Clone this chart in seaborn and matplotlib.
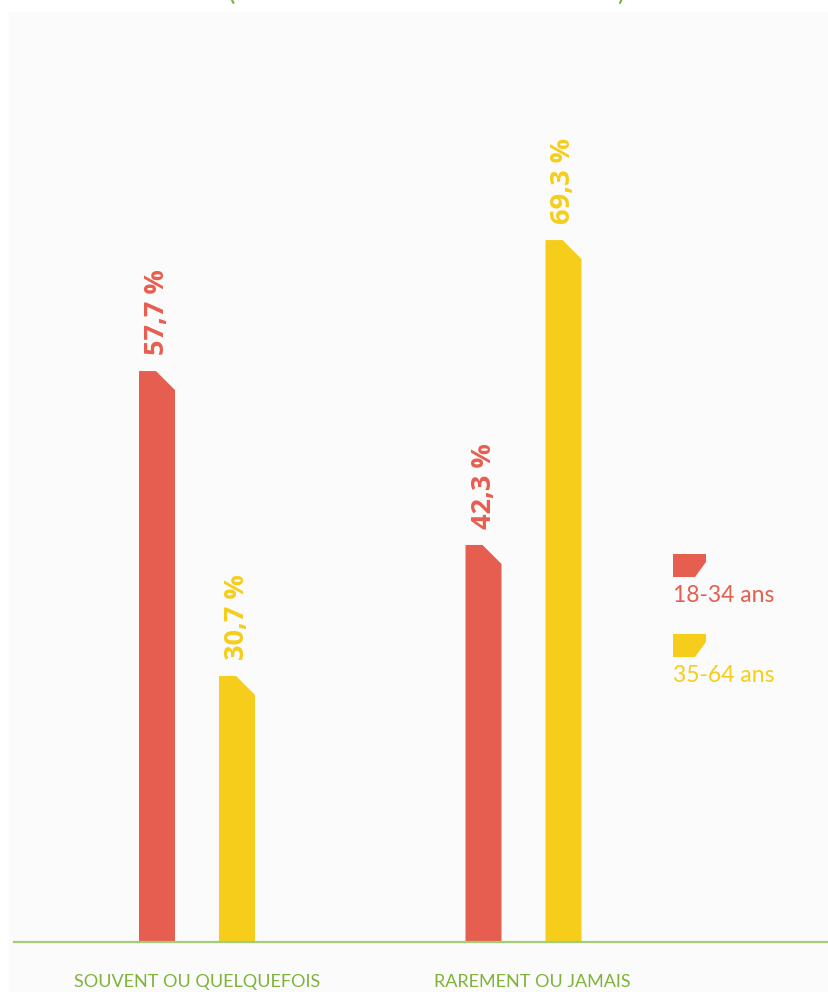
import numpy as np
import pandas as pd
import matplotlib
matplotlib.use("Agg")
import matplotlib.pyplot as plt
import matplotlib.transforms as mtrans
from matplotlib.patches import Polygon, Rectangle
import seaborn as sns

# ── Data ──────────────────────────────────────────────────────────────────────
categories = ["SOUVENT OU QUELQUEFOIS", "RAREMENT OU JAMAIS"]
groups     = ["18-34 ans", "35-64 ans"]
values_1834 = [57.7, 42.3]
values_3564 = [30.7, 69.3]

# ── Style ─────────────────────────────────────────────────────────────────────
PALETTE = {
    "18-34 ans": "#E65E50",
    "35-64 ans": "#F6CD1A",
    "green":     "#7FB33A",
    "line":      "#A3CE74",
    "panel":     "#FBFBFB",
}

sns.set_style("white")
plt.rcParams["font.family"] = ["Lato", "DejaVu Sans"]

df = pd.DataFrame({
    "categorie": categories * 2,
    "groupe":    [groups[0]] * 2 + [groups[1]] * 2,
    "valeur":    values_1834 + values_3564,
})

W, H = 829, 992
fig = plt.figure(figsize=(W / 100, H / 100), dpi=100, facecolor="white")
fig.patches.append(Rectangle((9 / W, 0), 1 - 9 / W, (H - 12) / H,
                             transform=fig.transFigure, color=PALETTE["panel"],
                             zorder=-10))

ax = fig.add_axes([14 / W, 50 / H, 1 - 14 / W, (942 - 15) / H])
ax.set_facecolor("none")

sns.barplot(data=df, x="categorie", y="valeur", hue="groupe",
            palette=PALETTE, hue_order=groups, order=categories,
            width=0.49, gap=0.55, saturation=1, legend=False, ax=ax)

ax.set_xlim(-0.5605, 1.9357)
ax.set_ylim(7.14, 89.23)

# cut the top-right corner of every bar
fig.canvas.draw()
px_x = ax.transData.transform([(1, 0)])[0][0] - ax.transData.transform([(0, 0)])[0][0]
px_y = ax.transData.transform([(0, 1)])[0][1] - ax.transData.transform([(0, 0)])[0][1]
dx, dy = 19 / px_x, 19 / px_y

labels = []
for patch in list(ax.patches):
    x, w, h = patch.get_x(), patch.get_width(), patch.get_height()
    if np.isnan(h):
        continue
    col = patch.get_facecolor()
    patch.remove()
    ax.add_patch(Polygon([(x, 0), (x, h), (x + w - dx, h), (x + w, h - dy), (x + w, 0)],
                         closed=True, facecolor=col, edgecolor="none"))
    labels.append((x + w / 2, h, col))

for xc, h, col in labels:
    ax.annotate(f"{h:.1f} %".replace(".", ","), (xc, h),
                xytext=(0, 11.5), textcoords="offset points",
                rotation=90, ha="center", va="bottom",
                fontsize=19.5, fontweight="bold", color=col,
                family=["Open Sans", "DejaVu Sans"])

# axes cosmetics
for s in ["top", "right", "left"]:
    ax.spines[s].set_visible(False)
ax.spines["bottom"].set_color(PALETTE["line"])
ax.spines["bottom"].set_linewidth(1.6)
ax.set_xlabel("")
ax.set_ylabel("")
ax.set_yticks([])
ax.tick_params(axis="x", length=0, pad=23, labelsize=13, labelcolor=PALETTE["green"])
# second category label sits a little right of its group centre
lbl = ax.get_xticklabels()[1]
lbl.set_transform(lbl.get_transform() + mtrans.ScaledTranslation(9 / 100, 0, fig.dpi_scale_trans))

# legend with cut-corner swatches
for i, g in enumerate(groups):
    top = 554 + i * 80
    x0, x1 = 673 / W, 706 / W
    y0, y1 = (H - top - 23) / H, (H - top) / H
    fig.patches.append(Polygon([(x0, y0), (x0, y1), (x1, y1), (x1, y1 - 8 / H),
                                (x1 - 11 / W, y0)], closed=True,
                               transform=fig.transFigure,
                               facecolor=PALETTE[g], edgecolor="none"))
    fig.text(673 / W, (H - top - 52) / H, g, fontsize=16.5,
             color=PALETTE[g], ha="left", va="bottom")

# title, cut off by the top edge
fig.text(228 / W, (H - 5) / H, "(", fontsize=20, color=PALETTE["green"],
         ha="left", va="bottom")
fig.text(625 / W, (H - 5) / H, ")", fontsize=20, color=PALETTE["green"],
         ha="right", va="bottom")

fig.savefig("out.png", dpi=100, facecolor=fig.get_facecolor())
